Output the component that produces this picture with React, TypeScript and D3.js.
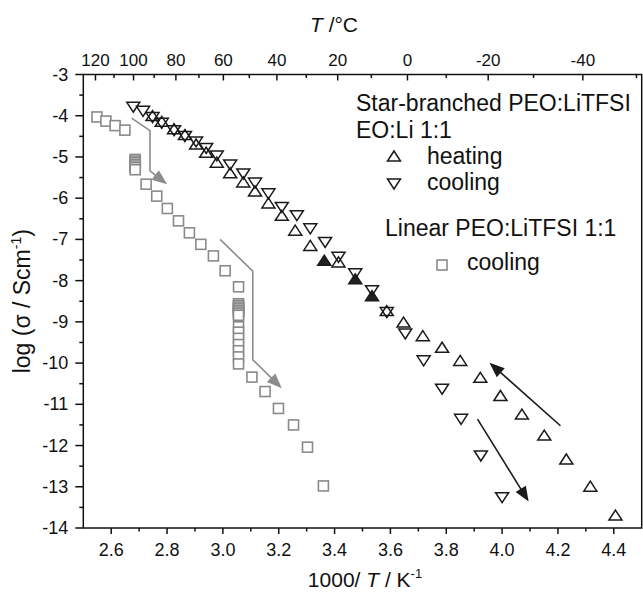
import React from 'react';
import * as d3 from 'd3';

const W = 643;
const H = 594;

// axis ticks
const xMajor = [2.6, 2.8, 3.0, 3.2, 3.4, 3.6, 3.8, 4.0, 4.2, 4.4];
const xMinor = [2.7, 2.9, 3.1, 3.3, 3.5, 3.7, 3.9, 4.1, 4.3];
const yMajor = [-3, -4, -5, -6, -7, -8, -9, -10, -11, -12, -13, -14];
const yMinor = [-3.5, -4.5, -5.5, -6.5, -7.5, -8.5, -9.5, -10.5, -11.5, -12.5, -13.5];
const cMajor = [120, 100, 80, 60, 40, 20, 0, -20, -40];
const cMinor = [110, 90, 70, 50, 30, 10, -10, -30, -50];

// Star-branched PEO:LiTFSI heating (up triangles)
const heatingX = [2.748, 2.781, 2.825, 2.864, 2.904, 2.94, 2.978, 3.026, 3.073, 3.115, 3.163, 3.211, 3.259, 3.313, 3.363, 3.414, 3.474, 3.534, 3.587, 3.647, 3.716, 3.785, 3.850, 3.922, 3.994, 4.071, 4.151, 4.230, 4.316, 4.406];
const heatingY = [-4.02, -4.16, -4.34, -4.48, -4.71, -4.91, -5.15, -5.41, -5.63, -5.85, -6.14, -6.44, -6.80, -7.17, -7.53, -7.57, -7.98, -8.39, -8.75, -9.03, -9.36, -9.64, -9.96, -10.37, -10.81, -11.26, -11.77, -12.35, -13.01, -13.71];
const heatingDark = [3.363, 3.474, 3.534];

// Star-branched PEO:LiTFSI cooling (down triangles)
const coolingX = [2.679, 2.714, 2.748, 2.781, 2.825, 2.864, 2.904, 2.94, 2.978, 3.026, 3.073, 3.115, 3.163, 3.211, 3.265, 3.313, 3.366, 3.414, 3.474, 3.534, 3.587, 3.653, 3.719, 3.785, 3.853, 3.924, 4.0];
const coolingY = [-3.77, -3.87, -4.02, -4.16, -4.34, -4.48, -4.61, -4.77, -4.95, -5.17, -5.39, -5.61, -5.87, -6.20, -6.40, -6.72, -7.05, -7.41, -7.81, -8.22, -8.75, -9.27, -9.92, -10.61, -11.34, -12.23, -13.24];

// Linear PEO:LiTFSI 1:1 cooling (squares)
const linearX = [2.549, 2.581, 2.614, 2.649, 2.686, 2.686, 2.686, 2.686, 2.686, 2.686, 2.686, 2.725, 2.763, 2.801, 2.841, 2.880, 2.921, 2.966, 3.008, 3.056, 3.056, 3.056, 3.056, 3.056, 3.056, 3.056, 3.056, 3.056, 3.056, 3.056, 3.056, 3.056, 3.056, 3.056, 3.056, 3.104, 3.151, 3.199, 3.253, 3.303, 3.360];
const linearY = [-4.03, -4.13, -4.24, -4.35, -5.06, -5.10, -5.14, -5.18, -5.22, -5.26, -5.31, -5.66, -5.95, -6.25, -6.55, -6.84, -7.12, -7.40, -7.76, -8.15, -8.56, -8.60, -8.64, -8.68, -8.72, -8.76, -8.80, -8.84, -9.12, -9.25, -9.40, -9.55, -9.70, -9.85, -10.02, -10.34, -10.69, -11.10, -11.50, -12.04, -12.98];

// annotation arrows (data coordinates)
const grayArrow1 = [[2.673, -4.06], [2.739, -4.36], [2.739, -5.34], [2.800, -5.66]];
const grayArrow2 = [[2.990, -7.00], [3.107, -7.77], [3.107, -9.92], [3.211, -10.61]];
const blackArrow1 = [[4.209, -11.52], [3.955, -9.99]];
const blackArrow2 = [[3.912, -11.36], [4.095, -13.36]];

const x = d3.scaleLinear().domain([2.5, 4.5]).range([83.3, 641.7]);
const y = d3.scaleLinear().domain([-3, -14]).range([74.5, 528]);
const cToX = (c: number) => x(1000 / (c + 273.15));

const FONT = "'Liberation Sans', Arial, sans-serif";
const UP = 'M0,-6 L6.5,4 L-6.5,4 Z';
const DOWN = 'M0,6 L6.5,-4 L-6.5,-4 Z';

function Arrow({ pts, color, width }: { pts: number[][]; color: string; width: number }) {
  const p = pts.map(([a, b]) => [x(a), y(b)]);
  const n = p.length;
  const [x1, y1] = p[n - 2];
  const [x2, y2] = p[n - 1];
  const ang = Math.atan2(y2 - y1, x2 - x1);
  const L = 15, Wd = 6;
  const bx = x2 - L * Math.cos(ang), by = y2 - L * Math.sin(ang);
  const head = `M${x2},${y2} L${bx + Wd * Math.sin(ang)},${by - Wd * Math.cos(ang)} L${bx - Wd * Math.sin(ang)},${by + Wd * Math.cos(ang)} Z`;
  const line = d3.line()(p.slice(0, n - 1).concat([[bx + 3 * Math.cos(ang), by + 3 * Math.sin(ang)]]) as [number, number][]);
  return (
    <g>
      <path d={line || ''} fill="none" stroke={color} strokeWidth={width} />
      <path d={head} fill={color} stroke="none" />
    </g>
  );
}

export default function App() {
  const x0 = x.range()[0], x1 = x.range()[1];
  const y0 = y.range()[0], y1 = y.range()[1];
  return (
    <svg width={W} height={H} style={{ position: 'absolute', left: 0, top: 0, background: '#fff' }} fontFamily={FONT}>
      <rect x={0} y={0} width={W} height={H} fill="#fff" />
      {/* frame */}
      <rect x={x0} y={y0} width={x1 - x0} height={y1 - y0} fill="none" stroke="#111" strokeWidth={1.5} />
      {/* bottom ticks */}
      {xMajor.map((v) => (
        <g key={'xb' + v}>
          <line x1={x(v)} x2={x(v)} y1={y1} y2={y1 + 6} stroke="#111" strokeWidth={1.5} />
          <text x={x(v)} y={y1 + 28} fontSize={18} textAnchor="middle" fill="#111">{v.toFixed(1)}</text>
        </g>
      ))}
      {xMinor.map((v) => (
        <line key={'xm' + v} x1={x(v)} x2={x(v)} y1={y1} y2={y1 + 3.5} stroke="#111" strokeWidth={1.5} />
      ))}
      {/* left ticks */}
      {yMajor.map((v) => (
        <g key={'yl' + v}>
          <line x1={x0 - 8} x2={x0} y1={y(v)} y2={y(v)} stroke="#111" strokeWidth={1.5} />
          <text x={x0 - 15} y={y(v) + 6} fontSize={18} textAnchor="end" fill="#111">{v}</text>
        </g>
      ))}
      {yMinor.map((v) => (
        <line key={'ym' + v} x1={x0 - 4} x2={x0} y1={y(v)} y2={y(v)} stroke="#111" strokeWidth={1.5} />
      ))}
      {/* top ticks (Celsius) */}
      {cMajor.map((c) => (
        <g key={'ct' + c}>
          <line x1={cToX(c)} x2={cToX(c)} y1={y0} y2={y0 + 6} stroke="#111" strokeWidth={1.5} />
          <text x={cToX(c)} y={y0 - 9} fontSize={17} textAnchor="middle" fill="#111">{c}</text>
        </g>
      ))}
      {cMinor.map((c) => (
        <line key={'cm' + c} x1={cToX(c)} x2={cToX(c)} y1={y0} y2={y0 + 3.5} stroke="#111" strokeWidth={1.5} />
      ))}
      {/* axis titles */}
      <text x={334} y={32} fontSize={21} textAnchor="middle" fill="#111">
        <tspan fontStyle="italic">T</tspan> /°C
      </text>
      <text x={365} y={587} fontSize={21} textAnchor="middle" fill="#111">
        1000/ <tspan fontStyle="italic">T</tspan> / K<tspan dy={-9} fontSize={13}>-1</tspan>
      </text>
      <text transform={`translate(30,${(y0 + y1) / 2}) rotate(-90)`} fontSize={23} textAnchor="middle" fill="#111">
        log (σ / Scm<tspan dy={-9} fontSize={14}>-1</tspan><tspan dy={9}>)</tspan>
      </text>
      {/* arrows */}
      <Arrow pts={grayArrow1} color="#8c8c8c" width={1.6} />
      <Arrow pts={grayArrow2} color="#8c8c8c" width={1.6} />
      <Arrow pts={blackArrow1} color="#1a1a1a" width={1.6} />
      <Arrow pts={blackArrow2} color="#1a1a1a" width={1.6} />
      {/* linear squares */}
      {linearX.map((v, i) => (
        <rect key={'l' + i} x={x(v) - 5} y={y(linearY[i]) - 5} width={10} height={10} fill="#fff" stroke="#8a8a8a" strokeWidth={1.6} />
      ))}
      {/* heating */}
      {heatingX.map((v, i) => (
        <path key={'h' + i} d={UP} transform={`translate(${x(v)},${y(heatingY[i])})`} fill={heatingDark.includes(v) ? '#222' : 'none'} stroke="#1a1a1a" strokeWidth={1.5} />
      ))}
      {/* cooling */}
      {coolingX.map((v, i) => (
        <path key={'c' + i} d={DOWN} transform={`translate(${x(v)},${y(coolingY[i])})`} fill="none" stroke="#1a1a1a" strokeWidth={1.5} />
      ))}
      {/* legend */}
      <g fontSize={23} fill="#111">
        <text x={356} y={111}>Star-branched PEO:LiTFSI</text>
        <text x={356} y={138}>EO:Li 1:1</text>
        <path d={UP} transform="translate(394,157)" fill="none" stroke="#1a1a1a" strokeWidth={1.5} />
        <text x={427} y={164}>heating</text>
        <path d={DOWN} transform="translate(394,183)" fill="none" stroke="#1a1a1a" strokeWidth={1.5} />
        <text x={427} y={190}>cooling</text>
        <text x={385} y={236}>Linear PEO:LiTFSI 1:1</text>
        <rect x={437} y={260} width={10} height={10} fill="#fff" stroke="#8a8a8a" strokeWidth={1.6} />
        <text x={467} y={270}>cooling</text>
      </g>
    </svg>
  );
}
